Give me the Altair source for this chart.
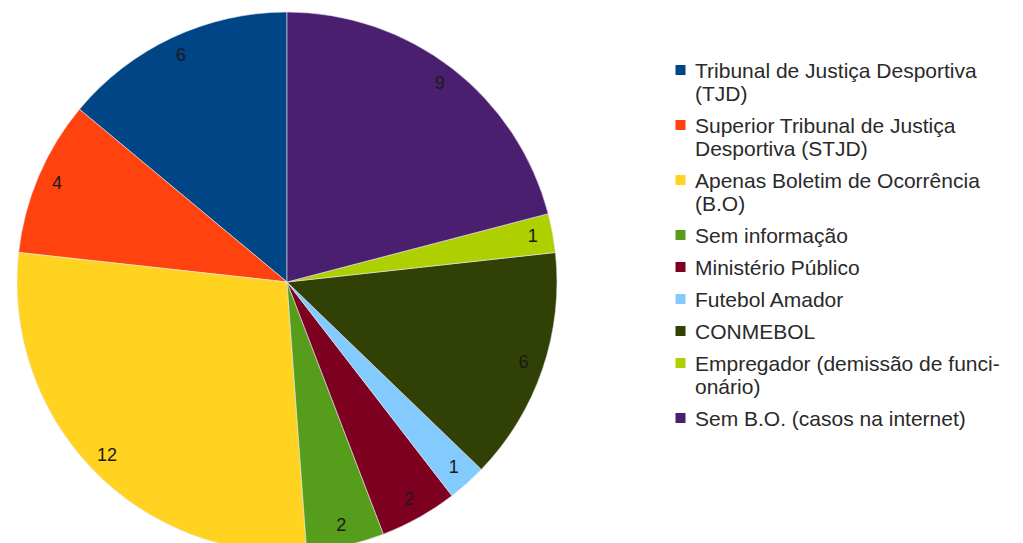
import altair as alt
import pandas as pd

categories = [
    "Tribunal de Justiça Desportiva\n(TJD)",
    "Superior Tribunal de Justiça\nDesportiva (STJD)",
    "Apenas Boletim de Ocorrência\n(B.O)",
    "Sem informação",
    "Ministério Público",
    "Futebol Amador",
    "CONMEBOL",
    "Empregador (demissão de funci-\nonário)",
    "Sem B.O. (casos na internet)",
]
values = [6, 4, 12, 2, 2, 1, 6, 1, 9]
colors = ["#004586", "#ff420e", "#ffd320", "#579d1c", "#7e0021",
          "#83caff", "#314004", "#aecf00", "#4b1f6f"]

df = pd.DataFrame({"categoria": categories, "valor": values,
                   "idx": list(range(len(categories)))})

cx, cy = 279, 274

base = alt.Chart(df).encode(
    theta=alt.Theta("valor:Q", stack=True),
    order=alt.Order("idx:Q", sort="descending"),
)

pie = base.mark_arc(radius=270, stroke="#e8e8f0", strokeWidth=0.6).encode(
    x=alt.value(cx), y=alt.value(cy),
    color=alt.Color(
        "categoria:N",
        scale=alt.Scale(domain=categories, range=colors),
        sort=None,
        legend=alt.Legend(
            title=None, orient="none", legendX=662, legendY=42,
            labelExpr="split(datum.label, '\\n')",
            symbolType="M-1,0.9L1,0.9L1,2.9L-1,2.9Z",
            symbolSize=100, symbolStrokeWidth=0,
            labelFont="Liberation Sans", labelFontSize=21, labelColor="#2a2a2a",
            labelLimit=0, labelOffset=4, rowPadding=0,
            labelBaseline="top", symbolOffset=0,
        ),
    ),
)

labels = base.mark_text(radius=250, font="Liberation Sans", fontSize=18,
                        color="#1a1a1a").encode(
    x=alt.value(cx), y=alt.value(cy),
    text=alt.Text("valor:Q"),
)

chart = alt.layer(pie, labels).properties(
    width=1000, height=535, padding=0,
    autosize=alt.AutoSizeParams(type="none"),
).configure_view(stroke=None)

chart.save("out.html", embed_options={"renderer": "svg", "actions": False})
